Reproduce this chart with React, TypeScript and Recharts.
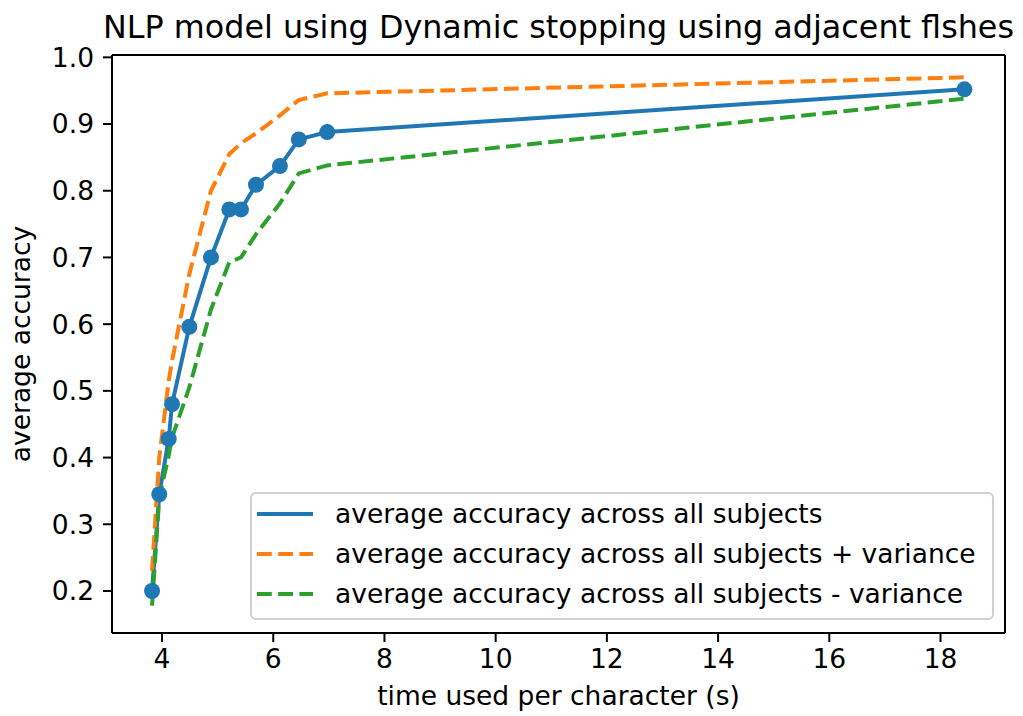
import React from "react";
import { LineChart, Line, XAxis, YAxis, Legend, ReferenceLine } from "recharts";

const TIME = [3.82, 3.95, 4.12, 4.18, 4.49, 4.88, 5.21, 5.42, 5.69, 6.12, 6.46, 6.97, 18.43];
const MEAN = [0.2, 0.345, 0.428, 0.48, 0.596, 0.7, 0.772, 0.772, 0.809, 0.837, 0.877, 0.888, 0.952];
const PLUS = [0.23, 0.4, 0.515, 0.545, 0.675, 0.8, 0.855, 0.871, 0.886, 0.913, 0.936, 0.946, 0.97];
const MINUS = [0.178, 0.34, 0.403, 0.43, 0.505, 0.622, 0.693, 0.7, 0.735, 0.781, 0.826, 0.838, 0.938];

const X_TICKS = [4, 6, 8, 10, 12, 14, 16, 18];
const Y_TICKS = [0.2, 0.3, 0.4, 0.5, 0.6, 0.7, 0.8, 0.9, 1.0];
const X_DOMAIN = [3.1, 19.16];
const Y_DOMAIN = [0.137, 1.0035];

const SERIES_LABELS = [
  "average accuracy across all subjects",
  "average accuracy across all subjects + variance",
  "average accuracy across all subjects - variance",
];
const TITLE = "NLP model using Dynamic stopping using adjacent flshes";
const X_LABEL = "time used per character (s)";
const Y_LABEL = "average accuracy";

const BLUE = "#1f77b4";
const ORANGE = "#ff7f0e";
const GREEN = "#2ca02c";
const FONT = "'DejaVu Sans', sans-serif";
const FS = 26.5;

const data = TIME.map((t, i) => ({ t, mean: MEAN[i], plus: PLUS[i], minus: MINUS[i] }));

const legendItems = [
  { label: SERIES_LABELS[0], color: BLUE, dash: undefined as string | undefined },
  { label: SERIES_LABELS[1], color: ORANGE, dash: "14.8 6.4" },
  { label: SERIES_LABELS[2], color: GREEN, dash: "14.8 6.4" },
];

const LegendBox = () => (
  <svg width={744} height={128} style={{ display: "block" }}>
    <rect x={1} y={1} width={742} height={126} rx={5} ry={5} fill="rgba(255,255,255,0.8)" stroke="#d0d0d0" strokeWidth={2} />
    {legendItems.map((it, i) => {
      const cy = 22 + i * 40;
      return (
        <g key={i}>
          <line x1={7} x2={63} y1={cy} y2={cy} stroke={it.color} strokeWidth={4} strokeDasharray={it.dash} />
          <text x={85} y={cy + 9} fontFamily={FONT} fontSize={FS} fill="#000">{it.label}</text>
        </g>
      );
    })}
  </svg>
);

export default function App() {
  return (
    <div style={{ position: "absolute", left: 0, top: 0, width: 1023, height: 716, background: "#fff" }}>
      <LineChart width={1023} height={716} data={data} margin={{ top: 55, right: 18, left: 0, bottom: 0 }}>
        <XAxis
          dataKey="t"
          type="number"
          domain={X_DOMAIN}
          allowDataOverflow
          ticks={X_TICKS}
          height={83}
          tickSize={9}
          tickMargin={7}
          axisLine={{ stroke: "#000", strokeWidth: 2 }}
          tickLine={{ stroke: "#000", strokeWidth: 2 }}
          tick={{ fontFamily: FONT, fontSize: FS, fill: "#000" }}
          label={{
            content: (p: any) => {
              const vb = p.viewBox;
              return (
                <text x={vb.x + vb.width / 2} y={vb.y + 72} textAnchor="middle" fontFamily={FONT} fontSize={FS} fill="#000">
                  {X_LABEL}
                </text>
              );
            },
          }}
        />
        <YAxis
          type="number"
          domain={Y_DOMAIN}
          allowDataOverflow
          ticks={Y_TICKS}
          width={112}
          tickSize={9}
          tickMargin={9}
          tickFormatter={(v: number) => v.toFixed(1)}
          axisLine={{ stroke: "#000", strokeWidth: 2 }}
          tickLine={{ stroke: "#000", strokeWidth: 2 }}
          tick={{ fontFamily: FONT, fontSize: FS, fill: "#000" }}
          label={{
            content: (p: any) => {
              const vb = p.viewBox;
              const cy = vb.y + vb.height / 2;
              return (
                <text x={30} y={cy} transform={`rotate(-90 30 ${cy})`} textAnchor="middle" fontFamily={FONT} fontSize={FS} fill="#000">
                  {Y_LABEL}
                </text>
              );
            },
          }}
        />
        <ReferenceLine x={X_DOMAIN[1]} stroke="#000" strokeWidth={2} ifOverflow="visible" />
        <ReferenceLine
          y={Y_DOMAIN[1]}
          stroke="#000"
          strokeWidth={2}
          ifOverflow="visible"
          label={{
            content: (p: any) => {
              const vb = p.viewBox;
              return (
                <text x={vb.x + vb.width / 2} y={vb.y - 17} textAnchor="middle" fontFamily={FONT} fontSize={31.8} fill="#000">
                  {TITLE}
                </text>
              );
            },
          }}
        />
        <Legend
          layout="vertical"
          align="center"
          verticalAlign="middle"
          wrapperStyle={{ position: "absolute", left: 250, top: 492, width: 744, height: 128 }}
          content={() => <LegendBox />}
        />
        <Line
          type="linear"
          dataKey="mean"
          stroke={BLUE}
          strokeWidth={4}
          dot={{ r: 8, fill: BLUE, stroke: "none" }}
          activeDot={false}
          isAnimationActive={false}
        />
        <Line
          type="linear"
          dataKey="plus"
          stroke={ORANGE}
          strokeWidth={4}
          strokeDasharray="14.8 6.4"
          dot={false}
          activeDot={false}
          isAnimationActive={false}
        />
        <Line
          type="linear"
          dataKey="minus"
          stroke={GREEN}
          strokeWidth={4}
          strokeDasharray="14.8 6.4"
          dot={false}
          activeDot={false}
          isAnimationActive={false}
        />
      </LineChart>
    </div>
  );
}
